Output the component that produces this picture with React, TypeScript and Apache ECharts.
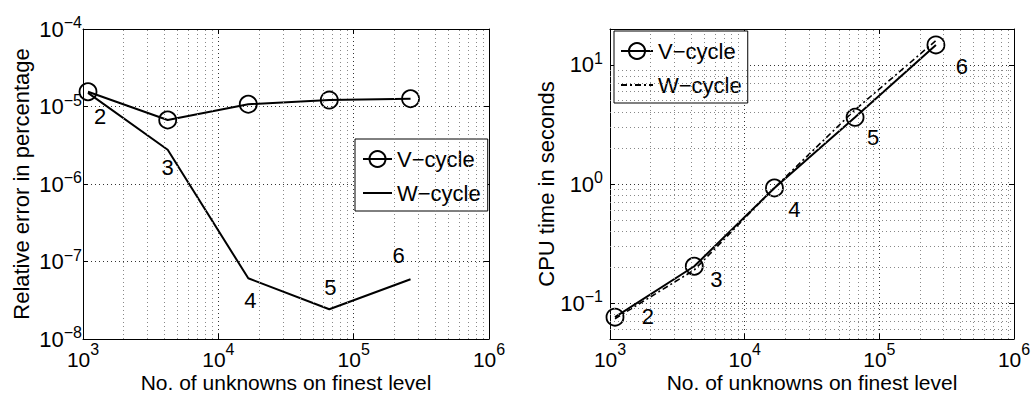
import React, { useEffect, useRef } from 'react';
import * as echarts from 'echarts';

// ---- data ----
const unknowns = [1089, 4225, 16641, 66049, 263169];
const levelLabels = ['2', '3', '4', '5', '6'];
const errV = [1.55e-5, 6.7e-6, 1.07e-5, 1.21e-5, 1.26e-5];
const errW = [1.5e-5, 2.77e-6, 6.07e-8, 2.42e-8, 5.9e-8];
const cpuV = [0.0763, 0.204, 0.926, 3.63, 14.7];
const cpuW = [0.074, 0.19, 0.93, 4.2, 16];

const xMinor = [2e3, 3e3, 4e3, 5e3, 6e3, 7e3, 8e3, 9e3, 2e4, 3e4, 4e4, 5e4, 6e4, 7e4, 8e4, 9e4, 2e5, 3e5, 4e5, 5e5, 6e5, 7e5, 8e5, 9e5];
const errMinor = [2e-8, 3e-8, 4e-8, 5e-8, 6e-8, 7e-8, 8e-8, 9e-8, 2e-7, 3e-7, 4e-7, 5e-7, 6e-7, 7e-7, 8e-7, 9e-7, 2e-6, 3e-6, 4e-6, 5e-6, 6e-6, 7e-6, 8e-6, 9e-6, 2e-5, 3e-5, 4e-5, 5e-5, 6e-5, 7e-5, 8e-5, 9e-5];
const cpuMinor = [0.06, 0.07, 0.08, 0.09, 0.2, 0.3, 0.4, 0.5, 0.6, 0.7, 0.8, 0.9, 2, 3, 4, 5, 6, 7, 8, 9];

const xTitle = 'No. of unknowns on finest level';
const errTitle = 'Relative error in percentage';
const cpuTitle = 'CPU time in seconds';
const legendNames: Record<string, string> = {
  errV: 'V\u2212cycle', errW: 'W\u2212cycle', cpuV: 'V\u2212cycle', cpuW: 'W\u2212cycle',
};

// label offsets (pixels) relative to the annotated points
const errLabelOffsets = [[12, 24], [0, 18], [2, 22], [1, -22], [-12, -24]];
const cpuLabelOffsets = [[33, -1], [22, 13], [20, 22], [18, 20], [26, 22]];

const FONT = '"Liberation Sans", Arial, Helvetica, sans-serif';

const powLabel = (v: number) => {
  const e = Math.log10(v);
  const r = Math.round(e);
  if (Math.abs(e - r) > 1e-6) return '';
  return `{b|10}{s|${r < 0 ? '\u2212' + -r : r}}`;
};

// x-axis tick labels: base bottom-aligned, superscript raised ~10px
const richX = {
  b: { fontSize: 21, lineHeight: 18, verticalAlign: 'bottom', fontFamily: FONT, color: '#000' },
  s: { fontSize: 16, padding: [0, 0, 13, 0], verticalAlign: 'top', fontFamily: FONT, color: '#000' },
};
// y-axis tick labels: base centred on the tick, superscript raised ~6.5px
const richY = {
  b: { fontSize: 22, lineHeight: 29, fontFamily: FONT, color: '#000' },
  s: { fontSize: 16, verticalAlign: 'top', fontFamily: FONT, color: '#000' },
};

const majorSplit = { show: true, lineStyle: { type: [1, 3], color: '#333', width: 1 } };

function mainX(grid: number) {
  return {
    type: 'log', logBase: 10, gridIndex: grid, min: 1e3, max: 1e6, position: 'bottom',
    axisLine: { show: true, lineStyle: { color: '#000', width: 1 } },
    axisTick: { show: true, inside: true, length: 5, lineStyle: { color: '#000' } },
    axisLabel: { formatter: powLabel, rich: richX, margin: 2, showMinLabel: true, showMaxLabel: true, hideOverlap: false },
    splitLine: majorSplit,
    name: xTitle, nameLocation: 'middle', nameGap: 33, nameMoveOverlap: false,
    nameTextStyle: { fontSize: 21, lineHeight: 20, fontFamily: FONT, color: '#000' },
  };
}
function mirrorX(grid: number) {
  return {
    type: 'log', logBase: 10, gridIndex: grid, min: 1e3, max: 1e6, position: 'top',
    axisLine: { show: true, lineStyle: { color: '#000', width: 1 } },
    axisTick: { show: true, inside: true, length: 5, lineStyle: { color: '#000' } },
    axisLabel: { show: false }, splitLine: { show: false },
  };
}
function mainY(grid: number, min: number, max: number, name: string, margin: number, gap: number) {
  return {
    type: 'log', logBase: 10, gridIndex: grid, min, max, position: 'left',
    axisLine: { show: true, lineStyle: { color: '#000', width: 1 } },
    axisTick: { show: true, inside: true, length: 5, lineStyle: { color: '#000' } },
    axisLabel: { formatter: powLabel, rich: richY, margin, showMinLabel: true, showMaxLabel: true, hideOverlap: false },
    splitLine: majorSplit,
    name, nameLocation: 'middle', nameGap: gap, nameMoveOverlap: false,
    nameTextStyle: { fontSize: 22, fontFamily: FONT, color: '#000' },
  };
}
function mirrorY(grid: number, min: number, max: number) {
  return {
    type: 'log', logBase: 10, gridIndex: grid, min, max, position: 'right',
    axisLine: { show: true, lineStyle: { color: '#000', width: 1 } },
    axisTick: { show: true, inside: true, length: 5, lineStyle: { color: '#000' } },
    axisLabel: { show: false }, splitLine: { show: false },
  };
}

const zip = (xs: number[], ys: number[]) => xs.map((x, i) => [x, ys[i]]);

function circleSeries(id: string, axis: number, ys: number[]) {
  return {
    name: id, type: 'line', xAxisIndex: axis * 2, yAxisIndex: axis * 2,
    data: zip(unknowns, ys), symbol: 'circle', symbolSize: 17,
    itemStyle: { color: 'rgba(0,0,0,0)', borderColor: '#000', borderWidth: 1.8 },
    lineStyle: { color: '#000', width: 2 }, z: 4, silent: true,
  };
}
function plainSeries(id: string, axis: number, ys: number[], type: any) {
  return {
    name: id, type: 'line', xAxisIndex: axis * 2, yAxisIndex: axis * 2,
    data: zip(unknowns, ys), symbol: 'none', showSymbol: false,
    itemStyle: { color: '#000' },
    lineStyle: { color: '#000', width: type === 'solid' ? 2 : 1.6, type }, z: 3, silent: true,
  };
}
function labelSeries(axis: number, ys: number[], offsets: number[][]) {
  return {
    type: 'scatter', xAxisIndex: axis * 2, yAxisIndex: axis * 2, symbolSize: 1, silent: true,
    itemStyle: { color: 'rgba(0,0,0,0)', opacity: 1 }, z: 5,
    data: unknowns.map((x, i) => ({
      value: [x, ys[i]],
      label: {
        show: true, position: 'inside', formatter: levelLabels[i], offset: offsets[i],
        fontSize: 22, fontFamily: FONT, color: '#000', opacity: 1,
        textBorderWidth: 0, textBorderColor: 'transparent',
      },
    })),
  };
}
function minorGrid(axis: number, yMinor: number[]) {
  return {
    type: 'line', xAxisIndex: axis * 2, yAxisIndex: axis * 2, data: [], silent: true, z: 1,
    markLine: {
      silent: true, symbol: ['none', 'none'], label: { show: false }, animation: false,
      lineStyle: { type: [1, 3], color: '#888', width: 1 },
      emphasis: { disabled: true },
      data: [...xMinor.map((v) => ({ xAxis: v })), ...yMinor.map((v) => ({ yAxis: v }))],
    },
  };
}

function legend(names: string[], left: number, top: number, padding: number[], itemWidth: number) {
  return {
    data: [names[0], { name: names[1], itemStyle: { opacity: 0 } }],
    orient: 'vertical', left, top, padding, itemWidth, itemHeight: 20, itemGap: 10,
    borderColor: '#000', borderWidth: 1, backgroundColor: '#fff', borderRadius: 0,
    selectedMode: false, formatter: (n: string) => legendNames[n],
    textStyle: { fontSize: 22, fontFamily: FONT, color: '#000', lineHeight: 24 },
  };
}

export default function App() {
  const ref = useRef<HTMLDivElement>(null);
  useEffect(() => {
    if (!ref.current) return;
    const chart = echarts.init(ref.current, null, { renderer: 'svg' });
    chart.setOption({
      animation: false,
      textStyle: { fontFamily: FONT },
      grid: [
        { left: 83, top: 29, width: 406, height: 310, containLabel: false, outerBoundsMode: 'none' },
        { left: 610, top: 29, width: 404, height: 310, containLabel: false, outerBoundsMode: 'none' },
      ],
      xAxis: [mainX(0), mirrorX(0), mainX(1), mirrorX(1)],
      yAxis: [
        mainY(0, 1e-8, 1e-4, errTitle, 1, 51), mirrorY(0, 1e-8, 1e-4),
        mainY(1, 0.05, 20, cpuTitle, 7, 53), mirrorY(1, 0.05, 20),
      ],
      legend: [
        legend(['errV', 'errW'], 355, 139, [8, 7, 6, 7], 29),
        legend(['cpuV', 'cpuW'], 614, 31, [8, 6, 6, 6], 32),
      ],
      series: [
        minorGrid(0, errMinor),
        minorGrid(1, cpuMinor),
        circleSeries('errV', 0, errV),
        plainSeries('errW', 0, errW, 'solid'),
        labelSeries(0, errW, errLabelOffsets),
        circleSeries('cpuV', 1, cpuV),
        plainSeries('cpuW', 1, cpuW, [6, 3, 2, 3]),
        labelSeries(1, cpuV, cpuLabelOffsets),
      ],
    });
    return () => chart.dispose();
  }, []);
  return <div ref={ref} style={{ position: 'absolute', left: 0, top: 0, width: 1031, height: 394 }} />;
}
